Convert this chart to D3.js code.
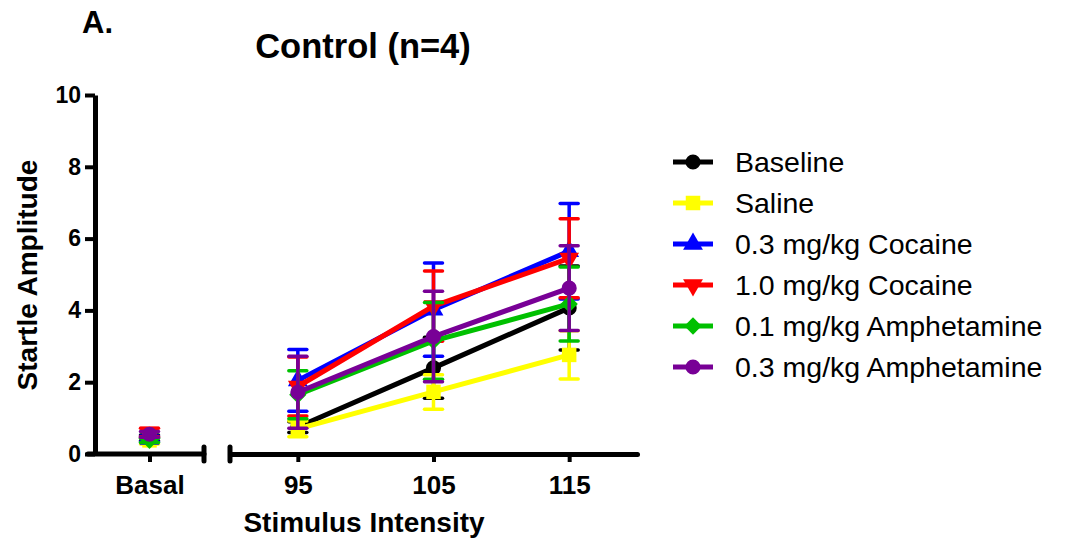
<!DOCTYPE html>
<html>
<head>
<meta charset="utf-8">
<script src="https://cdn.jsdelivr.net/npm/d3@7"></script>
<style>
  body { margin: 0; background: #fff; }
  text { font-family: "Liberation Sans", Arial, sans-serif; }
</style>
</head>
<body>
<script>

// startle amplitude per group: basal value, then 95/105/115 dB
var intensities = [95, 105, 115];
var groupNames = ["Baseline", "Saline", "0.3 mg/kg Cocaine", "1.0 mg/kg Cocaine",
                  "0.1 mg/kg Amphetamine", "0.3 mg/kg Amphetamine"];
var groupColors = ["#000000", "#ffff00", "#0000ff", "#ff0000", "#00c000", "#780096"];
var groupShapes = ["circle", "square", "triangle", "triangleDown", "diamond", "circle"];

var basalMeans = [0.45, 0.38, 0.42, 0.60, 0.38, 0.55];
var basalSem   = [0.08, 0.10, 0.08, 0.12, 0.06, 0.08];

var baselineMeans = [0.75, 2.40, 4.07];
var baselineSem   = [0.15, 0.85, 1.17];
var salineMeans   = [0.70, 1.73, 2.76];
var salineSem     = [0.22, 0.48, 0.67];
var coc03Means    = [2.05, 4.02, 5.65];
var coc03Sem      = [0.86, 1.30, 1.33];
var coc10Means    = [1.88, 4.12, 5.45];
var coc10Sem      = [0.82, 0.98, 1.10];
var amph01Means   = [1.65, 3.15, 4.18];
var amph01Sem     = [0.67, 1.07, 1.03];
var amph03Means   = [1.72, 3.27, 4.62];
var amph03Sem     = [1.00, 1.26, 1.18];

var yTicks = [0, 2, 4, 6, 8, 10];

window.onload = function() {

  var allMeans = [baselineMeans, salineMeans, coc03Means, coc10Means, amph01Means, amph03Means];
  var allSem = [baselineSem, salineSem, coc03Sem, coc10Sem, amph01Sem, amph03Sem];

  // one record per group
  var groups = groupNames.map(function(name, k) {
    return {
      name: name,
      color: groupColors[k],
      shape: groupShapes[k],
      basal: {mean: basalMeans[k], sem: basalSem[k]},
      points: intensities.map(function(x, i) {
        return {x: x, mean: allMeans[k][i], sem: allSem[k][i]};
      })
    };
  });

  var svg = d3.select("body").append("svg")
              .attr("width", 1070)
              .attr("height", 544);

  // scales: basal segment and intensity segment share the y axis
  var y = d3.scaleLinear().domain([0, 10]).range([454, 95]);
  var xBasal = d3.scalePoint().domain(["Basal"]).range([95, 204]).padding(0.5);
  var xInt = d3.scaleLinear().domain([90, 120]).range([230, 637]);

  // y axis
  var yAxis = svg.append("g")
                 .attr("transform", "translate(95,0)")
                 .call(d3.axisLeft(y).tickValues(yTicks).tickSize(10)
                         .tickSizeOuter(0).tickPadding(4));
  yAxis.select(".domain").attr("stroke-width", 5);
  yAxis.selectAll(".tick line").attr("stroke-width", 4);
  yAxis.selectAll("text")
       .style("font-size", "23px").style("font-weight", "bold").attr("fill", "#000");

  // x axis, basal part
  var xb = svg.append("g")
              .attr("transform", "translate(0,454)")
              .call(d3.axisBottom(xBasal).tickSize(8).tickSizeOuter(0));
  // x axis, intensity part
  var xi = svg.append("g")
              .attr("transform", "translate(0,454)")
              .call(d3.axisBottom(xInt).tickValues(intensities).tickSize(8).tickSizeOuter(0));

  [xb, xi].forEach(function(ax) {
    ax.select(".domain").attr("stroke-width", 5).attr("stroke-linecap", "round");
    ax.selectAll(".tick line").attr("stroke-width", 4);
    ax.selectAll("text")
      .attr("y", 40).attr("dy", 0)
      .style("font-size", "26px").style("font-weight", "bold").attr("fill", "#000");
  });
  xb.select(".domain").attr("d", "M88,0H204");

  // axis break caps
  [204, 230].forEach(function(bx) {
    svg.append("line")
       .attr("x1", bx).attr("x2", bx)
       .attr("y1", 447).attr("y2", 461)
       .attr("stroke", "#000")
       .attr("stroke-width", 5)
       .attr("stroke-linecap", "round");
  });

  // marker path generator
  function markerPath(shape) {
    if (shape === "circle") return d3.symbol().type(d3.symbolCircle).size(180)();
    if (shape === "square") return d3.symbol().type(d3.symbolSquare).size(210)();
    if (shape === "diamond") return d3.symbol().type(d3.symbolSquare).size(150)();
    return d3.symbol().type(d3.symbolTriangle).size(170)();
  }
  function markerRotate(shape) {
    if (shape === "diamond") return 45;
    if (shape === "triangleDown") return 180;
    return 0;
  }

  var line = d3.line()
               .x(function(d) { return xInt(d.x); })
               .y(function(d) { return y(d.mean); });

  var capHalf = 9;

  groups.forEach(function(g) {
    var layer = svg.append("g");

    // error bars, intensity points plus basal point
    var bars = g.points.map(function(p) {
      return {cx: xInt(p.x), mean: p.mean, sem: p.sem};
    });
    bars.push({cx: xBasal("Basal"), mean: g.basal.mean, sem: g.basal.sem});

    bars.forEach(function(b) {
      var top = y(b.mean + b.sem);
      var bot = y(b.mean - b.sem);
      layer.append("line")
           .attr("x1", b.cx).attr("x2", b.cx)
           .attr("y1", top).attr("y2", bot)
           .attr("stroke", g.color).attr("stroke-width", 3.5);
      [top, bot].forEach(function(cy) {
        layer.append("line")
             .attr("x1", b.cx - capHalf).attr("x2", b.cx + capHalf)
             .attr("y1", cy).attr("y2", cy)
             .attr("stroke", g.color).attr("stroke-width", 3.5)
             .attr("stroke-linecap", "round");
      });
    });

    // connecting line
    layer.append("path")
         .datum(g.points)
         .attr("d", line)
         .attr("fill", "none")
         .attr("stroke", g.color)
         .attr("stroke-width", 5);

    // markers
    bars.forEach(function(b) {
      layer.append("path")
           .attr("d", markerPath(g.shape))
           .attr("transform", "translate(" + b.cx + "," + y(b.mean) + ") rotate(" + markerRotate(g.shape) + ")")
           .attr("fill", g.color);
    });
  });

  // legend
  var legend = svg.append("g");
  groups.forEach(function(g, k) {
    var ly = 162 + k * 41;
    legend.append("line")
          .attr("x1", 673).attr("x2", 713)
          .attr("y1", ly).attr("y2", ly)
          .attr("stroke", g.color).attr("stroke-width", 5);
    legend.append("path")
          .attr("d", markerPath(g.shape))
          .attr("transform", "translate(693," + ly + ") rotate(" + markerRotate(g.shape) + ")")
          .attr("fill", g.color);
    legend.append("text")
          .attr("x", 735).attr("y", ly)
          .attr("dy", "0.35em")
          .style("font-size", "28.5px")
          .text(g.name);
  });

  // titles
  svg.append("text")
     .attr("x", 82).attr("y", 33)
     .style("font-size", "31px").style("font-weight", "bold")
     .text("A.");

  svg.append("text")
     .attr("x", 363).attr("y", 58)
     .attr("text-anchor", "middle")
     .style("font-size", "34.5px").style("font-weight", "bold")
     .text("Control (n=4)");

  svg.append("text")
     .attr("x", 364).attr("y", 532)
     .attr("text-anchor", "middle")
     .style("font-size", "28px").style("font-weight", "bold")
     .text("Stimulus Intensity");

  svg.append("text")
     .attr("transform", "translate(37,275) rotate(-90)")
     .attr("text-anchor", "middle")
     .style("font-size", "28px").style("font-weight", "bold")
     .text("Startle Amplitude");
};
</script>
</body>
</html>
